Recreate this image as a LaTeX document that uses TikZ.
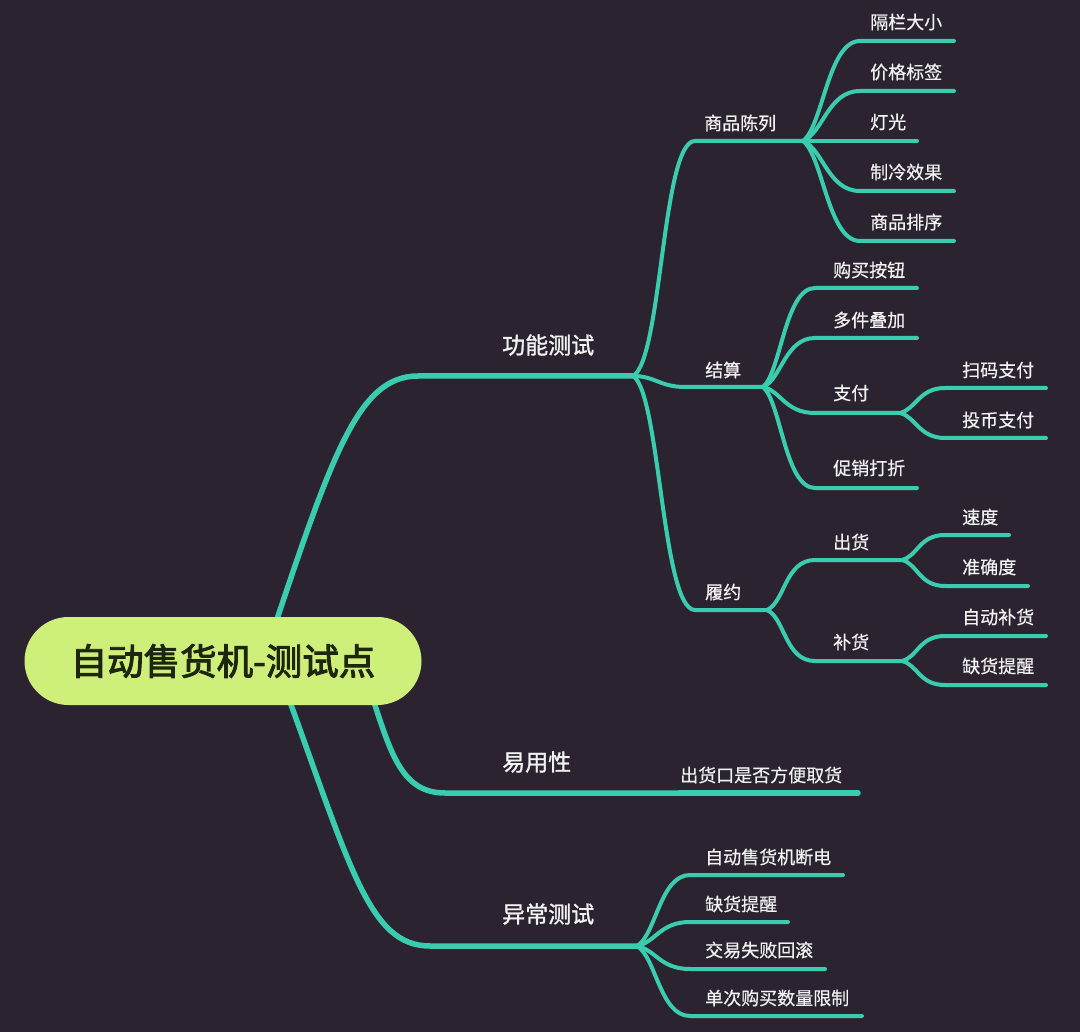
\documentclass[tikz,border=0pt]{standalone}
\usepackage{fontspec}
\setmainfont{Noto Sans CJK SC}
\newfontfamily\rootfnt[FakeBold=2.6]{Noto Sans CJK SC}
\newfontfamily\topicfnt[FakeBold=1.3]{Noto Sans CJK SC}
\newfontfamily\leaffnt[FakeBold=0.5]{Noto Sans CJK SC}
\definecolor{bgc}{RGB}{43,36,48}
\definecolor{tealc}{RGB}{58,204,174}
\definecolor{rootc}{RGB}{206,240,122}
\definecolor{roott}{RGB}{30,38,16}
\definecolor{txtc}{RGB}{242,242,242}
\tikzset{
  mainconn/.style={draw=tealc, line width=5.5pt, line cap=round},
  conn/.style={draw=tealc, line width=4pt, line cap=round},
  lab/.style={text=txtc, inner sep=0pt, anchor=west, font=\leaffnt\fontsize{18}{18}\selectfont},
  mainlab/.style={lab, font=\topicfnt\fontsize{23}{23}\selectfont},
  rootbox/.style={fill=rootc, rounded corners=44pt, minimum width=397pt, minimum height=88pt,
    inner sep=0pt, text=roott, font=\rootfnt\fontsize{36.5}{36.5}\selectfont},
}
\begin{document}
\begin{tikzpicture}[x=1pt,y=-1pt]
\fill[bgc] (0,0) rectangle (1080,1032);
% ---------- coordinates ----------
\coordinate (r-a) at (270,640);
\coordinate (r-b) at (370,690);
\coordinate (r-c) at (282,680);
\coordinate (gn-s) at (418,376);  \coordinate (gn) at (633,376);
\coordinate (yy-s) at (445,793);  \coordinate (yy) at (680,793);
\coordinate (yc-s) at (430,946);  \coordinate (yc) at (637,946);
\coordinate (sp-s) at (695,141);  \coordinate (sp) at (803,141);
\coordinate (js-s) at (685,387);  \coordinate (js) at (763,387);
\coordinate (ly-s) at (695,610);  \coordinate (ly) at (767,610);
% leaves of sp
\coordinate (a1-s) at (860,41);   \coordinate (a1-e) at (954,41);
\coordinate (a2-s) at (860,91);   \coordinate (a2-e) at (954,91);
\coordinate (a3-e) at (917,141);
\coordinate (a4-s) at (860,191);  \coordinate (a4-e) at (954,191);
\coordinate (a5-s) at (860,241);  \coordinate (a5-e) at (954,241);
% js
\coordinate (b1-s) at (815,288);  \coordinate (b1-e) at (917,288);
\coordinate (b2-s) at (815,338);  \coordinate (b2-e) at (917,338);
\coordinate (b3-s) at (815,413);  \coordinate (b3-e) at (900,413);
\coordinate (b4-s) at (815,488);  \coordinate (b4-e) at (917,488);
\coordinate (c1-s) at (945,388);  \coordinate (c1-e) at (1046,388);
\coordinate (c2-s) at (945,438);  \coordinate (c2-e) at (1046,438);
% ly
\coordinate (d1-s) at (815,560);  \coordinate (d1-e) at (902,560);
\coordinate (d2-s) at (815,661);  \coordinate (d2-e) at (902,661);
\coordinate (e1-s) at (945,535);  \coordinate (e1-e) at (1009,535);
\coordinate (e2-s) at (945,586);  \coordinate (e2-e) at (1028,586);
\coordinate (f1-s) at (945,636);  \coordinate (f1-e) at (1046,636);
\coordinate (f2-s) at (945,685);  \coordinate (f2-e) at (1046,685);
% yy
\coordinate (g1-e) at (858,793);
% yc
\coordinate (h1-s) at (690,875);  \coordinate (h1-e) at (843,875);
\coordinate (h2-s) at (690,922);  \coordinate (h2-e) at (788,922);
\coordinate (h3-s) at (690,969);  \coordinate (h3-e) at (825,969);
\coordinate (h4-s) at (690,1016); \coordinate (h4-e) at (862,1016);
% ---------- main branches ----------
\draw[mainconn] (r-a) .. controls +(62,-185) and +(-60,0) .. (gn-s) -- (gn);
\draw[mainconn] (r-b) .. controls +(20,60) and +(-45,0) .. (yy-s) -- (yy);
\draw[mainconn] (r-c) .. controls +(68,185) and +(-62,0) .. (yc-s) -- (yc);
% ---------- level 2 ----------
\draw[conn] (gn) .. controls +(29,-16) and +(-33,0) .. (sp-s) -- (sp);
\draw[conn] (gn) .. controls +(22,0) and +(-25,0) .. (js-s) -- (js);
\draw[conn] (gn) .. controls +(27,16) and +(-33,0) .. (ly-s) -- (ly);
\draw[mainconn] (yy) -- (g1-e);
% ---------- level 3 ----------
\draw[conn] (sp) .. controls +(20,-15) and +(-32,0) .. (a1-s) -- (a1-e);
\draw[conn] (sp) .. controls +(20,-8) and +(-32,0) .. (a2-s) -- (a2-e);
\draw[conn] (sp) -- (a3-e);
\draw[conn] (sp) .. controls +(20,8) and +(-32,0) .. (a4-s) -- (a4-e);
\draw[conn] (sp) .. controls +(20,15) and +(-32,0) .. (a5-s) -- (a5-e);
\draw[conn] (js) .. controls +(18,-15) and +(-30,0) .. (b1-s) -- (b1-e);
\draw[conn] (js) .. controls +(18,-7) and +(-30,0) .. (b2-s) -- (b2-e);
\draw[conn] (js) .. controls +(18,4) and +(-30,0) .. (b3-s) -- (b3-e);
\draw[conn] (js) .. controls +(18,15) and +(-30,0) .. (b4-s) -- (b4-e);
\draw[conn] (b3-e) .. controls +(16,-4) and +(-26,0) .. (c1-s) -- (c1-e);
\draw[conn] (b3-e) .. controls +(16,4) and +(-26,0) .. (c2-s) -- (c2-e);
\draw[conn] (ly) .. controls +(18,-8) and +(-30,0) .. (d1-s) -- (d1-e);
\draw[conn] (ly) .. controls +(18,8) and +(-30,0) .. (d2-s) -- (d2-e);
\draw[conn] (d1-e) .. controls +(16,-4) and +(-26,0) .. (e1-s) -- (e1-e);
\draw[conn] (d1-e) .. controls +(16,4) and +(-26,0) .. (e2-s) -- (e2-e);
\draw[conn] (d2-e) .. controls +(16,-4) and +(-26,0) .. (f1-s) -- (f1-e);
\draw[conn] (d2-e) .. controls +(16,4) and +(-26,0) .. (f2-s) -- (f2-e);
\draw[conn] (yc) .. controls +(19,-11) and +(-30,0) .. (h1-s) -- (h1-e);
\draw[conn] (yc) .. controls +(19,-4) and +(-30,0) .. (h2-s) -- (h2-e);
\draw[conn] (yc) .. controls +(19,4) and +(-30,0) .. (h3-s) -- (h3-e);
\draw[conn] (yc) .. controls +(19,11) and +(-30,0) .. (h4-s) -- (h4-e);
% ---------- root ----------
\node[rootbox] (root) at (223,661) {自动售货机-测试点};
% ---------- labels ----------
\node[mainlab] (t-gn) at (502,345) {功能测试};
\node[mainlab] (t-yy) at (502,762) {易用性};
\node[mainlab] (t-yc) at (502,914) {异常测试};
\node[lab] (t-sp) at (704,123) {商品陈列};
\node[lab] (t-js) at (705,370) {结算};
\node[lab] (t-ly) at (705,592) {履约};
\node[lab] (t-a1) at (870,22) {隔栏大小};
\node[lab] (t-a2) at (870,72) {价格标签};
\node[lab] (t-a3) at (870,122) {灯光};
\node[lab] (t-a4) at (870,172) {制冷效果};
\node[lab] (t-a5) at (870,222) {商品排序};
\node[lab] (t-b1) at (833,270) {购买按钮};
\node[lab] (t-b2) at (833,320) {多件叠加};
\node[lab] (t-b3) at (833,393) {支付};
\node[lab] (t-b4) at (833,468) {促销打折};
\node[lab] (t-c1) at (962,370) {扫码支付};
\node[lab] (t-c2) at (962,420) {投币支付};
\node[lab] (t-d1) at (833,542) {出货};
\node[lab] (t-d2) at (833,642) {补货};
\node[lab] (t-e1) at (962,517) {速度};
\node[lab] (t-e2) at (962,567) {准确度};
\node[lab] (t-f1) at (962,617) {自动补货};
\node[lab] (t-f2) at (962,666) {缺货提醒};
\node[lab] (t-g1) at (680,775) {出货口是否方便取货};
\node[lab] (t-h1) at (705,857) {自动售货机断电};
\node[lab] (t-h2) at (705,904) {缺货提醒};
\node[lab] (t-h3) at (705,950) {交易失败回滚};
\node[lab] (t-h4) at (705,998) {单次购买数量限制};
\end{tikzpicture}
\end{document}
